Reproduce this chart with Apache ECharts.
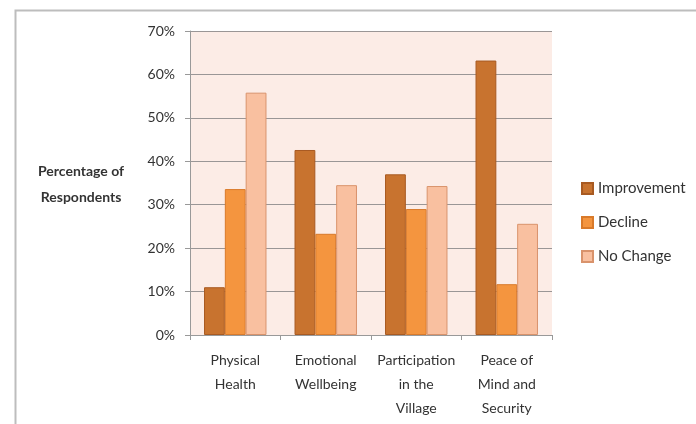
<!DOCTYPE html>
<html>
<head>
<meta charset="utf-8">
<script src="https://cdn.jsdelivr.net/npm/echarts@6/dist/echarts.min.js"></script>
<style>
  html, body { margin: 0; padding: 0; background: #fff; }
  #chart { width: 696px; height: 424px; }
</style>
</head>
<body>
<div id="chart"></div>
<script>
// data
const categories = ['Physical\nHealth', 'Emotional\nWellbeing', 'Participation\nin the\nVillage', 'Peace of\nMind and\nSecurity'];
const improvement = [11.0, 42.6, 37.0, 63.2];
const decline = [33.6, 23.3, 29.0, 11.7];
const noChange = [55.8, 34.5, 34.3, 25.6];

const font = 'Lato';

function barSeries(name, values, fill, border) {
    return {
        name: name,
        type: 'bar',
        data: values,
        barGap: '0%',
        barCategoryGap: '31%',
        itemStyle: { color: fill, borderColor: border, borderWidth: 1 },
        emphasis: { disabled: true }
    };
}

var chart = echarts.init(document.getElementById('chart'));
var option = {
    animation: false,
    backgroundColor: '#ffffff',
    textStyle: { fontFamily: font },
    graphic: [
        {
            type: 'rect',
            shape: { x: 15.5, y: 10.5, width: 700, height: 430 },
            style: { fill: 'none', stroke: '#bdbdbd', lineWidth: 2 },
            z: -10
        },
        {
            type: 'text',
            left: 38,
            top: 158,
            style: {
                text: 'Percentage of\nRespondents',
                font: 'bold 14px ' + font,
                fill: '#333',
                textAlign: 'center',
                lineHeight: 26
            }
        }
    ],
    grid: {
        left: 190, right: 144, top: 31, bottom: 89,
        show: true, backgroundColor: '#fcece6', borderWidth: 0
    },
    legend: {
        orient: 'vertical',
        left: 576,
        top: 176,
        itemWidth: 11,
        itemHeight: 11,
        itemGap: 19,
        icon: 'rect',
        textStyle: { fontSize: 15, color: '#333', fontFamily: font },
        data: ['Improvement', 'Decline', 'No Change']
    },
    xAxis: {
        type: 'category',
        data: categories,
        axisLine: { lineStyle: { color: '#999' } },
        axisTick: { show: true, length: 5, lineStyle: { color: '#999' } },
        axisLabel: { color: '#333', fontSize: 14, lineHeight: 24, margin: 13, interval: 0 }
    },
    yAxis: {
        type: 'value',
        min: 0,
        max: 70,
        interval: 10,
        axisLine: { show: true, lineStyle: { color: '#999' } },
        axisTick: { show: true, length: 5, lineStyle: { color: '#999' } },
        axisLabel: { color: '#333', fontSize: 14, margin: 15, formatter: '{value}%' },
        splitLine: { lineStyle: { color: '#9a9696', width: 1 } }
    },
    series: [
        barSeries('Improvement', improvement, '#c8732f', '#a85a22'),
        barSeries('Decline', decline, '#f4953f', '#d97a2a'),
        barSeries('No Change', noChange, '#f9c0a0', '#d9936c')
    ]
};
chart.setOption(option);
</script>
</body>
</html>
